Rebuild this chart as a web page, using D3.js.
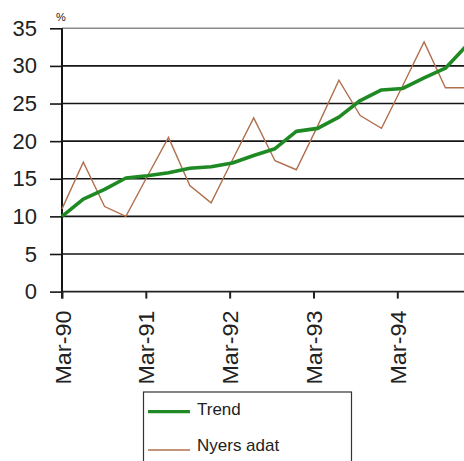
<!DOCTYPE html>
<html>
<head>
<meta charset="utf-8">
<script src="https://cdn.jsdelivr.net/npm/d3@7"></script>
<style>
  html, body { margin: 0; padding: 0; background: #fff; }
  svg { display: block; }
  text { font-family: "Liberation Sans", Arial, sans-serif; fill: #222; }
</style>
</head>
<body>
<svg id="chart" width="464" height="461"></svg>
<script>
// Quarterly observations, March 1990 – December 1994
const quarters = [
  "Mar-90", "Jun-90", "Sep-90", "Dec-90",
  "Mar-91", "Jun-91", "Sep-91", "Dec-91",
  "Mar-92", "Jun-92", "Sep-92", "Dec-92",
  "Mar-93", "Jun-93", "Sep-93", "Dec-93",
  "Mar-94", "Jun-94", "Sep-94", "Dec-94"
];

// Trend (%)
const trendValues = [
  10.0, 12.3, 13.6, 15.1,
  15.4, 15.8, 16.4, 16.6,
  17.1, 18.1, 19.0, 21.3,
  21.7, 23.2, 25.4, 26.8,
  27.0, 28.4, 29.7, 32.7
];

// Nyers adat – raw data (%)
const rawValues = [
  11.0, 17.2, 11.3, 10.0,
  15.3, 20.5, 14.1, 11.8,
  17.5, 23.1, 17.4, 16.2,
  22.0, 28.1, 23.4, 21.7,
  27.4, 33.2, 27.1, 27.1
];

const yTicks = [0, 5, 10, 15, 20, 25, 30, 35];
const yearLabels = ["Mar-90", "Mar-91", "Mar-92", "Mar-93", "Mar-94"];

const seriesNames = ["Trend", "Nyers adat"];
const seriesColors = ["#1f8a24", "#b0704e"];

const svg = d3.select("#chart");
const W = 464;

const left = 62;
const y = d3.scaleLinear().domain([0, 35]).range([291.6, 28.3]);
const x = d3.scalePoint().domain(quarters).range([left, left + 21.3 * (quarters.length - 1)]);
const xYear = d3.scalePoint().domain(yearLabels).range([left, 397.3]);

// Horizontal gridlines
svg.append("g")
  .selectAll("line")
  .data(yTicks.filter(v => v > 0))
  .join("line")
  .attr("x1", left).attr("x2", W)
  .attr("y1", d => y(d)).attr("y2", d => y(d))
  .attr("stroke", d => d === 35 ? "#8a8a8a" : "#151515")
  .attr("stroke-width", 1.6);

// Y axis with outward ticks
const yAxis = svg.append("g")
  .attr("transform", `translate(${left},0)`)
  .call(d3.axisLeft(y).tickValues(yTicks).tickSize(12).tickPadding(13).tickSizeOuter(0));
yAxis.select(".domain").remove();
yAxis.selectAll(".tick line").attr("stroke", "#151515").attr("stroke-width", 1.6);
yAxis.selectAll(".tick text")
  .attr("font-size", 22)
  .attr("fill", "#222")
  .attr("font-family", "Liberation Sans, Arial, sans-serif");

// Y axis line
svg.append("line")
  .attr("x1", left).attr("x2", left)
  .attr("y1", y(35)).attr("y2", y(0) + 7)
  .attr("stroke", "#151515").attr("stroke-width", 2);

// X axis line and yearly ticks
svg.append("line")
  .attr("x1", left).attr("x2", W)
  .attr("y1", y(0)).attr("y2", y(0))
  .attr("stroke", "#222").attr("stroke-width", 1.6);

const xAxis = svg.append("g")
  .attr("transform", `translate(0,${y(0)})`)
  .call(d3.axisBottom(xYear).tickSize(7).tickSizeOuter(0));
xAxis.select(".domain").remove();
xAxis.selectAll(".tick line").attr("stroke", "#222").attr("stroke-width", 2);
xAxis.selectAll(".tick text")
  .attr("font-size", 22)
  .attr("fill", "#222")
  .attr("font-family", "Liberation Sans, Arial, sans-serif")
  .attr("text-anchor", "end")
  .attr("dy", null)
  .attr("y", 0)
  .attr("transform", "translate(8,19) rotate(-90)")
  .attr("textLength", 74)
  .attr("lengthAdjust", "spacingAndGlyphs");

// Unit label
svg.append("text")
  .attr("x", left - 1).attr("y", 21)
  .attr("text-anchor", "middle")
  .attr("font-size", 11)
  .text("%");

// Series lines
const line = d3.line()
  .x((d, i) => x(quarters[i]))
  .y(d => y(d));

svg.append("path")
  .datum(rawValues)
  .attr("fill", "none")
  .attr("stroke", seriesColors[1])
  .attr("stroke-width", 1.4)
  .attr("stroke-linejoin", "miter")
  .attr("d", line);

svg.append("path")
  .datum(trendValues)
  .attr("fill", "none")
  .attr("stroke", seriesColors[0])
  .attr("stroke-width", 3.6)
  .attr("stroke-linejoin", "round")
  .attr("d", line);

// Legend
const lg = svg.append("g");
lg.append("rect")
  .attr("x", 143.5).attr("y", 392)
  .attr("width", 208).attr("height", 90)
  .attr("fill", "#fff")
  .attr("stroke", "#333").attr("stroke-width", 1.2);

const legendRows = [411.7, 450];
seriesNames.forEach((name, i) => {
  lg.append("line")
    .attr("x1", 148).attr("x2", 190)
    .attr("y1", legendRows[i]).attr("y2", legendRows[i])
    .attr("stroke", seriesColors[i])
    .attr("stroke-width", i === 0 ? 3.2 : 1.4);
  lg.append("text")
    .attr("x", 197)
    .attr("y", legendRows[i] + (i === 0 ? 3 : 1))
    .attr("font-size", 17)
    .text(name);
});
</script>
</body>
</html>
